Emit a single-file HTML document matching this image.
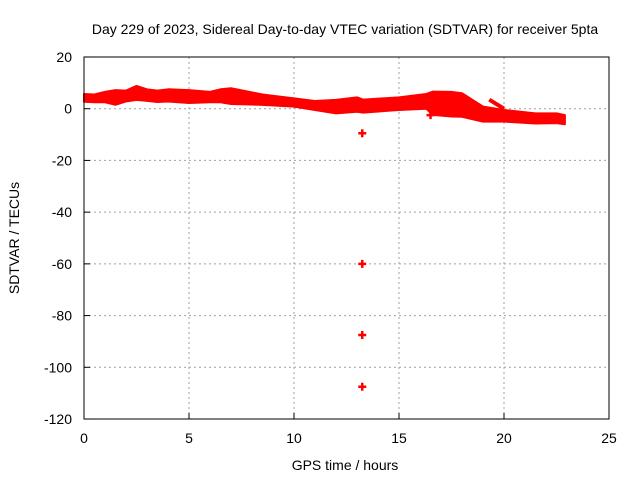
<!DOCTYPE html>
<html><head><meta charset="utf-8"><style>
body{margin:0;background:#fff}
svg text{font-family:"Liberation Sans",sans-serif;font-size:14px;fill:#000}
</style></head><body>
<svg id="chart" width="640" height="480" viewBox="0 0 640 480">
<text x="345" y="34" text-anchor="middle">Day 229 of 2023, Sidereal Day-to-day VTEC variation (SDTVAR) for receiver 5pta</text>
<text x="345" y="470" text-anchor="middle">GPS time / hours</text>
<text transform="translate(19,238) rotate(-90)" text-anchor="middle">SDTVAR / TECUs</text>
<g id="grid"></g>
<g id="marks"></g>
<rect x="84" y="57" width="525" height="362" fill="none" stroke="#000"/>
<g id="ticks"></g>
</svg>
<script>
const xTicks=[0,5,10,15,20,25];
const yTicks=[20,0,-20,-40,-60,-80,-100,-120];
const bandTime=[0,0.5,1,1.5,2,2.5,3,3.5,4,5,6,6.5,7,8.5,10,11,12,13,13.3,15,16.3,16.6,17.5,18,19,20,21.5,22.5,22.9];
const bandUpper=[5.7,5.5,6.5,7.2,7,8.8,7.5,7,7.5,7.2,6.5,7.5,7.9,5.5,4,3,3.4,4.4,3.5,4.4,5.7,6.6,6.5,6,0.8,-0.5,-1.8,-1.8,-2.5];
const bandLower=[2.7,2.5,2.5,1.5,2.8,3.4,3,2.6,2.8,2.2,2.5,2.5,1.8,1.5,0.8,-0.5,-1.8,-1.2,-1.5,-0.5,0,-2.4,-3,-3.1,-5,-5,-5.7,-5.6,-6];
const streakTime=[19.3,20];
const streakValue=[3.5,0];
const outlierTime=[13.25,13.25,13.25,13.25,16.5,16.6];
const outlierValue=[-9.5,-60,-87.5,-107.5,-2.5,0.8];
const X=t=>84+t*21, Y=v=>108.7-v*2.586;
const ns="http://www.w3.org/2000/svg";
const mk=(tag,at,parent)=>{const e=document.createElementNS(ns,tag);for(const k in at)e.setAttribute(k,at[k]);parent.appendChild(e);return e;};
const grid=document.getElementById('grid'),ticks=document.getElementById('ticks'),marks=document.getElementById('marks');
xTicks.forEach(t=>{
 if(t>0&&t<25){const g=mk('line',{x1:X(t),x2:X(t),y1:57,y2:419,stroke:'#a0a0a0','stroke-dasharray':'2,3'},grid);
 
 }
 const tk=mk('line',{x1:X(t),x2:X(t),y1:419,y2:413,stroke:'#000'},ticks);
 
 
 const l=mk('text',{x:X(t),y:443,'text-anchor':'middle'},ticks);l.textContent=t;
 
 
});
yTicks.forEach(v=>{
 if(v<20&&v>-120){const g=mk('line',{x1:84,x2:609,y1:Y(v),y2:Y(v),stroke:'#a0a0a0','stroke-dasharray':'2,3'},grid);
 
 }
 const tk=mk('line',{x1:84,x2:90,y1:Y(v),y2:Y(v),stroke:'#000'},ticks);
 
 
 const l=mk('text',{x:72,y:Y(v)+5,'text-anchor':'end'},ticks);l.textContent=v;
 
 
});
let d='M'+bandTime.map((t,i)=>X(t)+','+Y(bandUpper[i])).join('L');
for(let i=bandTime.length-1;i>=0;i--)d+='L'+X(bandTime[i])+','+Y(bandLower[i]);
d+='Z';
const band=mk('path',{d:d,fill:'#ff0000',stroke:'#ff0000','stroke-width':2,'stroke-linejoin':'round'},marks);


const st=mk('path',{d:'M'+streakTime.map((t,i)=>X(t)+','+Y(streakValue[i])).join('L'),stroke:'#ff0000','stroke-width':4,fill:'none'},marks);


outlierTime.forEach((t,i)=>{
 const x=X(t),y=Y(outlierValue[i]);
 const p=mk('path',{d:`M${x-4},${y}H${x+4}M${x},${y-4}V${y+4}`,stroke:'#ff0000','stroke-width':2.5},marks);
 
 
});
</script>
</body></html>
